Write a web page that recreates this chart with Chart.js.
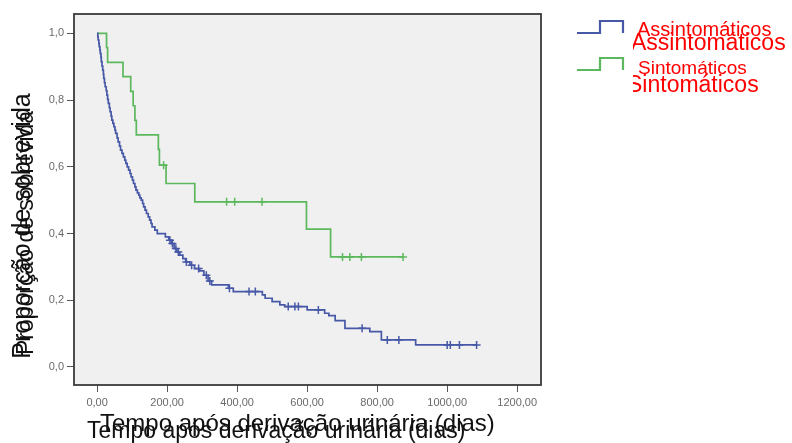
<!DOCTYPE html>
<html>
<head>
<meta charset="utf-8">
<script src="https://cdn.jsdelivr.net/npm/chart.js@4/dist/chart.umd.min.js"></script>
<style>
  html, body { margin: 0; padding: 0; background: #fff; }
  #wrap { position: relative; width: 792px; height: 443px; overflow: hidden; }
  #wrap canvas { position: absolute; left: 0; top: 0; }
  .t { position: absolute; white-space: nowrap; line-height: 1; font-family: "Liberation Sans", Arial, sans-serif; }
  .ytitle { transform: translate(-50%, -50%) rotate(-90deg); color: #111; }
  .xtitle { color: #111; }
  .leg { color: #ff0000; }
  #clipLeg { position: absolute; left: 633px; top: 0; width: 159px; height: 110px; overflow: hidden; }
</style>
</head>
<body>
<div id="wrap">
  <canvas id="km" width="792" height="443"></canvas>
  <div class="t ytitle" style="left:21px;top:226px;font-size:25px">Proporção de sobrevida</div>
  <div class="t ytitle" style="left:25px;top:233px;font-size:23px">Proporção de sobrevida</div>
  <div class="t xtitle" style="left:100px;top:411px;font-size:24px">Tempo após derivação urinária (dias)</div>
  <div class="t xtitle" style="left:87px;top:419px;font-size:23px">Tempo após derivação urinária (dias)</div>
  <div class="t leg" style="left:637px;top:19px;font-size:20px">Assintomáticos</div>
  <div class="t leg" style="left:638px;top:58px;font-size:19px">Sintomáticos</div>
  <div id="clipLeg">
    <div class="t leg" style="left:-2px;top:31px;font-size:23px">Assintomáticos</div>
    <div class="t leg" style="left:-6px;top:73px;font-size:23px">Sintomáticos</div>
  </div>
</div>
<script>
// Assintomáticos - tempos (dias) e sobrevida acumulada
const blueTimes = [0, 2, 3, 5, 6, 8, 9, 11, 12, 14, 16, 18, 19, 21, 23, 26, 28, 30, 32, 35,
    37, 40, 42, 45, 48, 51, 53, 57, 60, 64, 67, 71, 75, 79, 82, 86, 90, 94, 97, 101,
    104, 108, 111, 115, 119, 122, 126, 130, 133, 137, 141, 146, 150, 154, 157, 165, 172, 195, 205, 212,
    220, 228, 236, 245, 253, 265, 278, 293, 305, 317, 327, 375, 389, 472, 480, 500, 522, 536, 600, 650,
    662, 680, 708, 779, 812, 910, 1084];
const blueSurv = [1.0, 0.99, 0.98, 0.97, 0.96, 0.95, 0.94, 0.928, 0.915, 0.902, 0.89, 0.877, 0.865, 0.852, 0.84, 0.828, 0.815, 0.802, 0.79, 0.777,
    0.765, 0.752, 0.74, 0.73, 0.72, 0.71, 0.70, 0.687, 0.675, 0.662, 0.65, 0.64, 0.63, 0.62, 0.61, 0.60, 0.59, 0.58, 0.57, 0.56,
    0.55, 0.54, 0.53, 0.522, 0.515, 0.507, 0.50, 0.49, 0.48, 0.47, 0.46, 0.45, 0.44, 0.43, 0.42, 0.41, 0.40, 0.39, 0.38, 0.37,
    0.355, 0.345, 0.335, 0.325, 0.315, 0.305, 0.295, 0.288, 0.275, 0.258, 0.246, 0.236, 0.226, 0.216, 0.206, 0.196, 0.186, 0.181, 0.171, 0.161,
    0.154, 0.139, 0.116, 0.106, 0.081, 0.066, 0.066];
const blueCensored = [208, 215, 225, 232, 255, 270, 290, 312, 322, 378, 434, 452, 546, 565, 575, 632, 757, 829, 862, 1000, 1009, 1035, 1084];

// Sintomáticos
const greenTimes = [0, 27, 30, 74, 96, 103, 108, 112, 175, 178, 197, 279, 598, 667, 874];
const greenSurv = [1.0, 0.957, 0.913, 0.870, 0.826, 0.783, 0.739, 0.696, 0.652, 0.605, 0.55, 0.495, 0.413, 0.33, 0.33];
const greenCensored = [190, 370, 393, 471, 701, 722, 755, 874];

const xTicks = [0, 200, 400, 600, 800, 1000, 1200];
const yTicks = [0, 0.2, 0.4, 0.6, 0.8, 1.0];

const BLUE = "#4658a6";
const GREEN = "#5cb85c";

function pts(ts, ss) {
    return ts.map((t, i) => ({ x: t, y: ss[i] }));
}

// survival at time t (step function)
function survAt(ts, ss, t) {
    let s = ss[0];
    for (let i = 0; i < ts.length; i++) {
        if (ts[i] <= t) s = ss[i];
    }
    return s;
}

function censorPts(cs, ts, ss) {
    return cs.map((t) => ({ x: t, y: survAt(ts, ss, t) }));
}

const frame = {
    id: "frame",
    beforeDatasetsDraw(chart) {
        const a = chart.chartArea, ctx = chart.ctx;
        ctx.save();
        ctx.fillStyle = "#f0f0f0";
        ctx.fillRect(a.left, a.top, a.right - a.left, a.bottom - a.top);
        ctx.restore();
    },
    afterDraw(chart) {
        const a = chart.chartArea, ctx = chart.ctx;
        ctx.save();
        ctx.strokeStyle = "#3a3a3a";
        ctx.lineWidth = 1.8;
        ctx.strokeRect(a.left, a.top, a.right - a.left, a.bottom - a.top);
        // legend glyphs
        const glyph = (y, col) => {
            ctx.strokeStyle = col;
            ctx.lineWidth = 2.2;
            ctx.beginPath();
            ctx.moveTo(577, y);
            ctx.lineTo(600, y);
            ctx.lineTo(600, y - 12);
            ctx.lineTo(623, y - 12);
            ctx.lineTo(623, y);
            ctx.stroke();
        };
        glyph(33, BLUE);
        glyph(70, GREEN);
        ctx.restore();
    },
};

const tickFont = { family: "'Liberation Sans', Arial, sans-serif", size: 11 };

new Chart(document.getElementById("km"), {
    type: "line",
    data: {
        datasets: [
            {
                label: "Assintomáticos",
                data: pts(blueTimes, blueSurv),
                stepped: "before",
                borderColor: BLUE,
                borderWidth: 1.7,
                pointRadius: 0,
                fill: false,
            },
            {
                label: "Sintomáticos",
                data: pts(greenTimes, greenSurv),
                stepped: "before",
                borderColor: GREEN,
                borderWidth: 1.7,
                pointRadius: 0,
                fill: false,
            },
            {
                label: "Assintomáticos censurados",
                data: censorPts(blueCensored, blueTimes, blueSurv),
                showLine: false,
                pointStyle: "cross",
                pointRadius: 4,
                borderColor: BLUE,
                pointBorderWidth: 1.5,
            },
            {
                label: "Sintomáticos censurados",
                data: censorPts(greenCensored, greenTimes, greenSurv),
                showLine: false,
                pointStyle: "cross",
                pointRadius: 4,
                borderColor: GREEN,
                pointBorderWidth: 1.5,
            },
        ],
    },
    options: {
        responsive: false,
        animation: false,
        layout: { padding: { left: 0, top: 14, right: 251, bottom: 0 } },
        plugins: { legend: { display: false }, tooltip: { enabled: false } },
        scales: {
            x: {
                type: "linear",
                min: -66,
                max: 1268,
                afterBuildTicks: (s) => { s.ticks = xTicks.map((v) => ({ value: v })); },
                afterFit: (s) => { s.height = 58; },
                grid: { drawOnChartArea: false, drawTicks: true, tickLength: 7, color: "#555" },
                border: { display: false },
                ticks: {
                    padding: 4,
                    color: "#6a6a6a",
                    font: tickFont,
                    maxRotation: 0,
                    callback: (v) => v.toFixed(2).replace(".", ","),
                },
            },
            y: {
                min: -0.054,
                max: 1.058,
                afterBuildTicks: (s) => { s.ticks = yTicks.map((v) => ({ value: v })); },
                afterFit: (s) => { s.width = 74; },
                grid: { drawOnChartArea: false, drawTicks: true, tickLength: 7, color: "#555" },
                border: { display: false },
                ticks: {
                    padding: 3,
                    color: "#6a6a6a",
                    font: tickFont,
                    callback: (v) => v.toFixed(1).replace(".", ","),
                },
            },
        },
    },
    plugins: [frame],
});
</script>
</body>
</html>
